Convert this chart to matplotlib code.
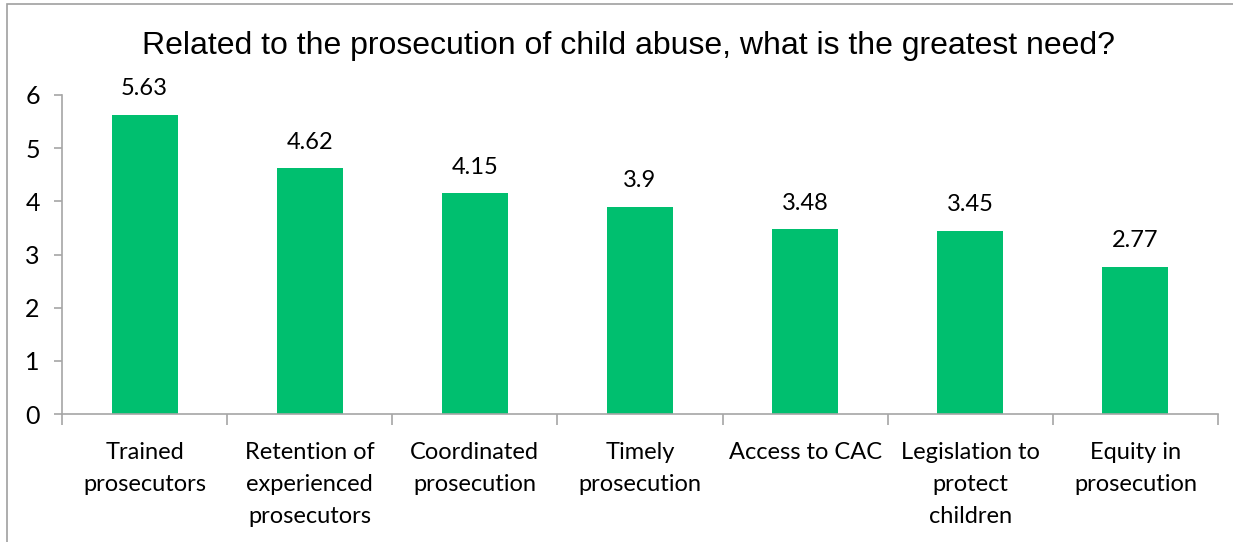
from matplotlib import pyplot as plt
from matplotlib.patches import Rectangle
import numpy as np

# data
categories = ["Trained\nprosecutors", "Retention of\nexperienced\nprosecutors",
              "Coordinated\nprosecution", "Timely\nprosecution", "Access to CAC",
              "Legislation to\nprotect\nchildren", "Equity in\nprosecution"]
values = [5.63, 4.62, 4.15, 3.9, 3.48, 3.45, 2.77]
value_labels = ["5.63", "4.62", "4.15", "3.9", "3.48", "3.45", "2.77"]
title = "Related to the prosecution of child abuse, what is the greatest need?"

fig = plt.figure(figsize=(12.33, 5.42), dpi=100)
ax = fig.add_axes([62/1233, 1-414/542, (1218-62)/1233, (414-95)/542])

x = np.arange(len(categories))
bars = ax.bar(x, values, width=0.4, color="#00BF6F", zorder=2)

for xi, v, lab in zip(x, values, value_labels):
    ax.annotate(lab, (xi, v), xytext=(0, 11), textcoords="offset points",
                ha="center", va="bottom", fontsize=17, family="Lato")

ax.set_xlim(-0.5, len(categories) - 0.5)
ax.set_ylim(0, 6)
ax.set_yticks(range(0, 7))
ax.set_xticks(x)
ax.set_xticklabels(categories, fontsize=17, family="Lato", linespacing=1.65)
ax.tick_params(axis="x", length=0, pad=20)
ax.set_xticks(np.arange(-0.5, len(categories)), minor=True)
ax.tick_params(axis="x", which="minor", length=8, color="#A6A6A6", width=1.2)
ax.tick_params(axis="y", length=6, color="#A6A6A6", width=1.2, labelsize=18, pad=10)
for lab in ax.get_yticklabels():
    lab.set_family("Lato")

for s in ["top", "right"]:
    ax.spines[s].set_visible(False)
for s in ["left", "bottom"]:
    ax.spines[s].set_color("#A6A6A6")
    ax.spines[s].set_linewidth(1.2)

fig.text(628/1233, 1-46/542, title, ha="center", va="center",
         fontsize=23, family="Liberation Sans")

# chart border
fig.patches.append(Rectangle((7/1233, -0.01), 1.02, 1-4/542 + 0.01, transform=fig.transFigure,
                             fill=False, edgecolor="#A0A0A0", linewidth=1.2))

fig.savefig("out.png", dpi=100)
